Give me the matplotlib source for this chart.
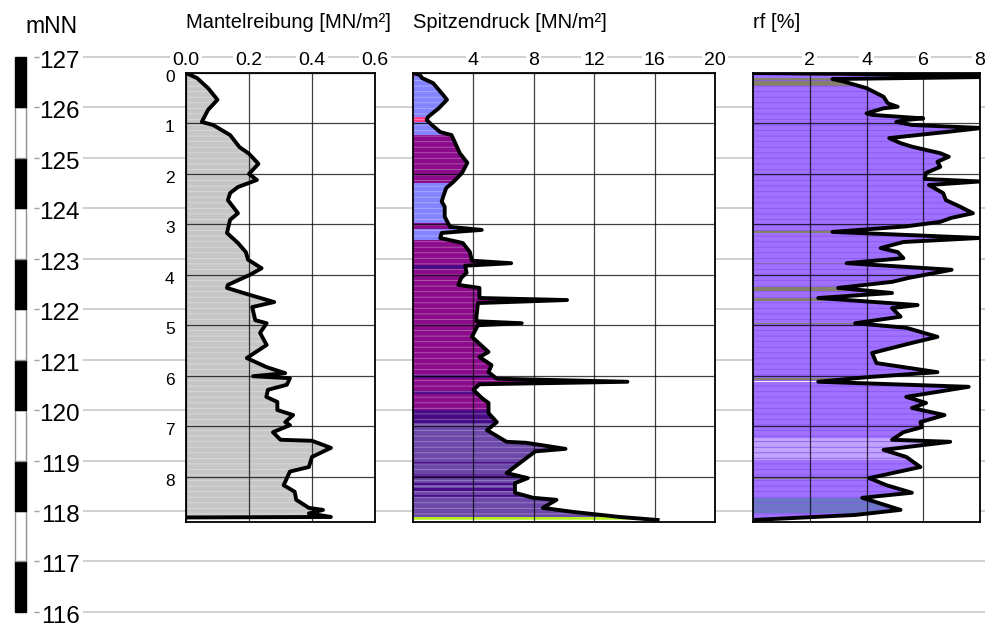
import matplotlib
matplotlib.use('Agg')
import matplotlib.pyplot as plt
from matplotlib.patches import PathPatch
import numpy as np

plt.rcParams['font.family'] = ['Liberation Sans', 'DejaVu Sans']
plt.rcParams['hatch.linewidth'] = 0.6

# --- data -------------------------------------------------------------
elev_ticks = list(range(116, 128))

# Mantelreibung [MN/m2] over depth [m]
mr_depth = [0.0, 0.1, 0.3, 0.53, 0.73, 0.97, 1.03, 1.23, 1.47, 1.6, 1.8, 2.0, 2.12, 2.26, 2.38,
            2.52, 2.78, 2.91, 3.17, 3.37, 3.55, 3.7, 3.87, 4.0, 4.2, 4.26, 4.4, 4.54, 4.64, 4.9,
            4.96, 5.15, 5.39, 5.65, 5.83, 5.95, 6.01, 6.05, 6.18, 6.28, 6.42, 6.52, 6.68, 6.78,
            6.92, 6.98, 7.12, 7.27, 7.29, 7.43, 7.61, 7.81, 7.9, 8.17, 8.3, 8.46, 8.62, 8.66,
            8.73, 8.8, 8.81]
mr_val = [0.0, 0.035, 0.07, 0.10, 0.07, 0.05, 0.086, 0.14, 0.17, 0.2, 0.23, 0.20, 0.225, 0.165,
          0.14, 0.133, 0.165, 0.14, 0.13, 0.165, 0.19, 0.197, 0.24, 0.203, 0.133, 0.13, 0.203,
          0.28, 0.21, 0.22, 0.256, 0.235, 0.256, 0.193, 0.256, 0.315, 0.213, 0.33, 0.32, 0.26,
          0.255, 0.29, 0.29, 0.34, 0.315, 0.33, 0.276, 0.30, 0.40, 0.46, 0.40, 0.39, 0.33, 0.31,
          0.345, 0.35, 0.39, 0.435, 0.39, 0.46, 0.0]

# Spitzendruck [MN/m2]
sd_depth = [0.0, 0.04, 0.1, 0.2, 0.4, 0.53, 0.7, 0.87, 0.93, 1.03, 1.17, 1.23, 1.39, 1.59, 1.78,
            1.98, 2.16, 2.28, 2.45, 2.55, 2.65, 2.85, 3.05, 3.11, 3.17, 3.27, 3.37, 3.55, 3.72,
            3.77, 3.82, 3.96, 4.06, 4.2, 4.26, 4.46, 4.5, 4.56, 4.83, 4.92, 4.96, 5.0, 5.23,
            5.53, 5.63, 5.79, 5.93, 6.06, 6.12, 6.17, 6.28, 6.44, 6.54, 6.74, 6.92, 7.08, 7.31,
            7.33, 7.45, 7.5, 7.77, 7.93, 8.03, 8.13, 8.32, 8.42, 8.46, 8.62, 8.7, 8.8, 8.86]
sd_val = [0.0, 0.46, 0.6, 1.33, 1.9, 2.25, 1.7, 1.0, 0.9, 1.25, 1.8, 2.55, 2.8, 3.1, 3.6, 3.25,
          2.67, 2.2, 2.0, 1.9, 2.1, 2.1, 2.45, 4.55, 1.9, 1.8, 3.3, 3.77, 3.9, 6.5, 3.45, 3.55,
          3.2, 3.0, 4.4, 4.4, 10.2, 4.3, 4.2, 4.2, 7.2, 4.3, 3.9, 5.0, 4.4, 5.2, 5.0, 5.55, 14.2,
          4.4, 4.0, 4.55, 5.0, 5.0, 5.55, 4.9, 6.2, 7.5, 10.1, 8.1, 6.9, 6.2, 7.6, 6.75, 6.75,
          7.95, 9.5, 8.6, 10.6, 13.7, 16.2]
# soil class bands under the Spitzendruck curve: (top, bottom, class)
sd_bands = [(0.00, 0.05, 'pink'), (0.05, 0.87, 'blue'), (0.87, 0.97, 'pink'),
            (0.97, 1.23, 'blue'), (1.23, 2.18, 'magenta'), (2.18, 2.97, 'blue'),
            (2.97, 3.10, 'magenta'), (3.10, 3.31, 'blue'), (3.31, 5.99, 'magenta'),
            (3.80, 3.88, 'indigo'), (5.99, 6.05, 'indigo'), (6.05, 6.68, 'magenta'),
            (6.30, 6.36, 'indigo'), (6.68, 6.94, 'indigo'), (6.94, 8.80, 'violet'),
            (7.72, 7.76, 'indigo'), (7.95, 8.02, 'indigo'), (8.12, 8.16, 'indigo'),
            (8.22, 8.28, 'indigo'), (8.36, 8.40, 'indigo'), (8.80, 8.90, 'yellow')]

# Reibungsverhaeltnis rf [%]
rf_depth = [0.0, 0.05, 0.07, 0.12, 0.17, 0.3, 0.47, 0.6, 0.67, 0.7, 0.8, 0.83, 0.9, 0.93, 0.97,
            1.03, 1.09, 1.17, 1.29, 1.39, 1.46, 1.59, 1.66, 1.76, 1.86, 1.98, 2.1, 2.15, 2.22,
            2.38, 2.52, 2.65, 2.78, 2.87, 2.95, 3.04, 3.15, 3.27, 3.35, 3.47, 3.55, 3.67, 3.77,
            3.9, 4.06, 4.14, 4.26, 4.36, 4.46, 4.6, 4.66, 4.83, 4.96, 5.05, 5.23, 5.35, 5.55,
            5.75, 5.93, 6.03, 6.12, 6.22, 6.42, 6.54, 6.64, 6.78, 6.92, 7.02, 7.12, 7.27, 7.31,
            7.47, 7.61, 7.81, 8.03, 8.17, 8.32, 8.42, 8.66, 8.76, 8.86]
rf_val = [0.0, 9.5, 9.5, 2.8, 3.2, 4.0, 4.6, 4.75, 5.1, 4.6, 4.0, 4.2, 6.0, 5.4, 5.05, 5.6, 8.06,
          6.8, 4.8, 5.2, 5.6, 6.6, 6.9, 6.5, 6.6, 6.1, 6.05, 8.0, 6.2, 6.7, 6.8, 7.3, 7.75, 7.0,
          6.6, 5.4, 2.8, 8.0, 5.3, 4.5, 5.1, 5.3, 3.3, 7.0, 5.5, 4.9, 3.0, 4.9, 2.3, 5.8, 4.9, 5.2,
          3.6, 5.4, 6.5, 5.6, 4.2, 4.35, 6.5, 4.0, 2.3, 7.6, 5.4, 6.1, 5.6, 6.75, 5.9, 5.95, 5.3,
          4.9, 6.95, 4.6, 5.4, 5.9, 4.1, 4.7, 5.6, 3.85, 5.2, 3.6, 0.0]
rf_bands = [(0.10, 0.26, 'olive'), (3.11, 3.17, 'olive'), (3.76, 3.79, 'olive'),
            (4.24, 4.32, 'olive'), (4.46, 4.52, 'olive'), (4.95, 4.98, 'olive'),
            (6.04, 6.08, 'olive'), (6.10, 6.13, 'white'), (7.23, 7.67, 'lavender'),
            (8.02, 8.04, 'olive'), (8.42, 8.72, 'bluegrey')]

class_colors = {'pink': '#ff3c8c', 'blue': '#8484ff', 'magenta': '#8a0c8a', 'indigo': '#4a0c86',
                'violet': '#6c48a8', 'yellow': '#b4f01e', 'olive': '#84806a',
                'white': '#f2f2f2', 'lavender': '#c2a4ff', 'bluegrey': '#6a78c4'}

# --- layout (pixels) --------------------------------------------------
W, H = 985, 628
Y127, PX_M = 57, 50.45          # pixel row of 127 mNN, pixels per metre
PTOP, PBOT = 73, 522            # panel top / bottom rows
DEPTH_MAX = (PBOT - PTOP) / PX_M

fig = plt.figure(figsize=(W / 100, H / 100), dpi=100)


def px_box(x0, x1):
    return [x0 / W, 1 - PBOT / H, (x1 - x0) / W, (PBOT - PTOP) / H]


# background: elevation grid + scale bar
ax_bg = fig.add_axes([0, 0, 1, 1])
ax_bg.set_xlim(0, W)
ax_bg.set_ylim(127 - (H - Y127) / PX_M, 127 + Y127 / PX_M)
ax_bg.axis('off')
ax_bg.hlines(elev_ticks, 83, W, color='#c8c8c8', lw=1.2)
ax_bg.hlines(elev_ticks, 34, 39, color='#a0a0a0', lw=1)
for e in elev_ticks:
    ax_bg.text(80, e - 11 / PX_M, str(e), ha='right', va='baseline', fontsize=17.5)
for b in range(116, 127):
    black = (126 - b) % 2 == 0
    ax_bg.bar(20.5, 1, bottom=b, width=11, color='black' if black else 'white',
              edgecolor='black' if black else '#909090', lw=1)
fig.text(25 / W, 1 - 33 / H, 'mNN', fontsize=16.5, va='baseline')


def panel(x0, x1, depth, val, xmax, ticks, labels, title, base, stripe, bands=None):
    ax = fig.add_axes(px_box(x0, x1))
    ax.set_xlim(0, xmax)
    ax.set_ylim(DEPTH_MAX, 0)
    poly = ax.fill_betweenx(depth, 0, val, facecolor=base, edgecolor='none', zorder=1)
    clip = PathPatch(poly.get_paths()[0], transform=ax.transData,
                     facecolor='none', edgecolor='none')
    ax.add_patch(clip)
    if bands:
        for top, bot, cls in bands:
            span = ax.axhspan(top, bot, color=class_colors[cls], lw=0, zorder=1.2)
            span.set_clip_path(clip)
    ax.fill_betweenx(depth, 0, val, facecolor='none', edgecolor=stripe, hatch='---',
                     lw=0, zorder=1.5)
    ax.plot(val, depth, color='black', lw=2.8, zorder=4, solid_joinstyle='round')
    ax.xaxis.tick_top()
    ax.set_xticks(ticks)
    ax.set_xticklabels(labels, fontsize=14)
    ax.set_yticks(range(0, 9))
    ax.set_yticklabels([])
    ax.tick_params(length=0, pad=3)
    for lab in ax.get_xticklabels():
        lab.set_bbox(dict(facecolor='white', edgecolor='none', pad=1.5))
    ax.grid(True, color='black', lw=0.9, alpha=0.75)
    ax.set_axisbelow(False)
    for s in ax.spines.values():
        s.set_linewidth(1.3)
    fig.text(x0 / W, 1 - 28 / H, title, fontsize=14.5, va='baseline')
    return ax


ax1 = panel(186, 375, mr_depth, mr_val, 0.6, [0, 0.2, 0.4, 0.6],
            ['0.0', '0.2', '0.4', '0.6'], 'Mantelreibung [MN/m²]', '#c6c6c6', '#dadada')
for d in range(0, 9):
    ax1.text(-0.06, d + 9 / PX_M, str(d), transform=ax1.get_yaxis_transform(),
             ha='right', va='baseline', fontsize=12.5)

ax2 = panel(413, 715, sd_depth, sd_val, 20, [4, 8, 12, 16, 20],
            ['4', '8', '12', '16', '20'], 'Spitzendruck [MN/m²]', '#8484ff', '#ffffff55',
            sd_bands)

ax3 = panel(753, 980, rf_depth, rf_val, 8, [2, 4, 6, 8],
            ['2', '4', '6', '8'], 'rf [%]', '#a070ff', '#8a58ee', rf_bands)

fig.savefig('out.png', dpi=100)
